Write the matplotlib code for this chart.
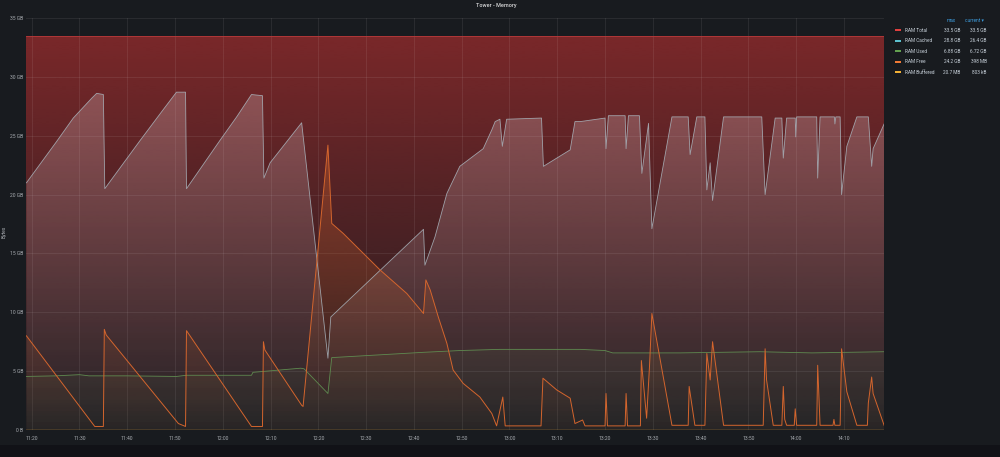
import numpy as np
import matplotlib
matplotlib.use('Agg')
import matplotlib.pyplot as plt
import matplotlib.colors as mcolors
from matplotlib.patches import Rectangle

plt.rcParams['font.family'] = ['Roboto', 'DejaVu Sans']

# time is minutes after 11:00, values in GB
cached_t = [18.9, 25.2, 28.7, 32.6, 33.6, 35.0, 35.3, 42.7, 47.5, 50.3, 52.2, 52.4,
            59.4, 62.9, 66.0, 68.3, 68.6, 69.9, 76.5, 82.0, 82.6, 102.0, 102.3, 104.4,
            106.9, 109.6, 114.5, 116.3, 117.0, 118.0, 118.5, 119.4, 126.7, 127.1, 132.7,
            133.7, 134.8, 140.0, 140.2, 140.7, 144.2, 144.4, 144.9, 147.2, 147.7, 149.1,
            149.8, 154.0, 157.4, 157.8, 159.2, 160.9, 161.3, 162.0, 162.5, 164.8, 172.8,
            173.5, 175.6, 177.0, 177.3, 178.0, 179.8, 179.9, 180.1, 184.3, 184.5, 185.0,
            188.0, 188.1, 188.3, 189.2, 189.5, 190.6, 192.7, 195.1, 195.8, 196.1, 198.4]
cached_v = [21.0, 24.5, 26.5, 28.2, 28.6, 28.5, 20.5, 24.6, 27.2, 28.7, 28.7, 20.5,
            24.6, 26.6, 28.5, 28.4, 21.4, 22.7, 26.1, 6.1, 9.6, 17.05, 14.0, 16.4,
            20.1, 22.4, 23.9, 25.5, 26.2, 26.4, 24.1, 26.4, 26.5, 22.4, 23.8,
            26.2, 26.2, 26.5, 23.9, 26.7, 26.7, 23.9, 26.7, 26.7, 21.8, 26.05,
            17.1, 26.6, 26.6, 23.4, 26.6, 26.6, 20.4, 22.7, 19.5, 26.6, 26.6,
            20.0, 26.5, 26.5, 23.1, 26.5, 26.5, 24.9, 26.6, 26.6, 21.4, 26.6,
            26.6, 26.0, 26.6, 26.6, 20.0, 24.1, 26.6, 26.6, 22.4, 23.9, 26.0]

free_t = [18.9, 33.2, 35.0, 35.2, 35.6, 50.7, 52.2, 52.4, 66.0, 68.3, 68.5, 68.8,
          76.5, 76.8, 82.0, 82.8, 85.2, 92.9, 98.5, 102.0, 102.5, 103.4, 105.1, 106.9,
          108.2, 110.3, 113.8, 116.3, 117.3, 118.6, 119.1, 126.6, 127.0, 129.9, 132.7,
          133.7, 135.3, 135.8, 140.0, 140.2, 140.5, 144.2, 144.4, 144.7, 147.4, 147.6,
          148.7, 149.3, 149.8, 154.0, 157.4, 157.6, 158.8, 160.9, 161.3, 162.0, 162.5,
          164.8, 173.1, 173.5, 173.8, 175.2, 177.0, 177.3, 177.6, 178.0, 179.6, 179.8,
          180.1, 184.3, 184.5, 185.0, 187.7, 187.9, 188.1, 189.2, 189.5, 190.6, 192.7,
          194.9, 195.1, 195.8, 196.1, 198.4]
free_v = [8.0, 0.3, 0.3, 8.55, 8.07, 0.55, 0.3, 8.44, 0.3, 0.3, 7.5, 6.8,
          2.1, 2.0, 24.2, 17.55, 16.7, 13.6, 11.6, 9.9, 12.75, 11.9, 9.6, 7.35,
          5.1, 3.96, 2.8, 1.4, 0.35, 2.8, 0.35, 0.35, 4.4, 3.4, 2.7,
          0.55, 0.85, 0.35, 0.35, 3.1, 0.35, 0.35, 3.1, 0.35, 0.35, 5.9,
          1.0, 5.4, 9.9, 0.4, 0.4, 3.7, 0.4, 0.4, 6.5, 4.25, 7.5,
          0.4, 0.4, 6.9, 4.25, 0.4, 0.4, 3.7, 0.9, 0.4, 0.4, 1.8,
          0.4, 0.4, 5.5, 0.4, 0.4, 0.9, 0.4, 0.4, 6.9, 3.25, 0.4,
          0.4, 2.3, 4.5, 3.1, 0.4]

used_t = [18.9, 25.0, 30.0, 32.0, 40.0, 50.3, 52.4, 60.0, 66.0, 66.3, 76.3, 77.0,
          82.0, 82.8, 102.0, 109.6, 118.0, 134.8, 140.0, 141.6, 155.7, 172.4, 183.3,
          198.4]
used_v = [4.55, 4.6, 4.7, 4.6, 4.6, 4.55, 4.65, 4.65, 4.65, 4.9, 5.25, 5.2,
          3.1, 6.15, 6.6, 6.75, 6.85, 6.85, 6.75, 6.55, 6.55, 6.65, 6.55,
          6.65]

total_t = [18.8, 198.4]
total_v = [33.5, 33.5]
buffered_t = [18.8, 198.4]
buffered_v = [0.02, 0.02]

tick_min = list(range(20, 191, 10))
tick_labels = ['11:20', '11:30', '11:40', '11:50', '12:00', '12:10', '12:20', '12:30',
               '12:40', '12:50', '13:00', '13:10', '13:20', '13:30', '13:40', '13:50',
               '14:00', '14:10']
ytick_vals = [0, 5, 10, 15, 20, 25, 30, 35]
ytick_labels = ['0 B', '5 GB', '10 GB', '15 GB', '20 GB', '25 GB', '30 GB', '35 GB']

leg_names = ['RAM Total', 'RAM Cached', 'RAM Used', 'RAM Free', 'RAM Buffered']
leg_max = ['33.5 GB', '28.8 GB', '6.88 GB', '24.2 GB', '20.7 MB']
leg_cur = ['33.5 GB', '26.4 GB', '6.72 GB', '398 MB', '803 kB']
leg_colors = ['#e0403f', '#5cc1cf', '#63a150', '#f07a35', '#f2b136']

X0, X1 = 18.81, 198.38
Y0, Y1 = 0, 35

fig = plt.figure(figsize=(10, 4.57), dpi=100, facecolor='#111217')
fig.add_artist(Rectangle((0, 12 / 457), 1, 1 - 12 / 457, transform=fig.transFigure,
                         facecolor='#181b1f', edgecolor='none', zorder=-10))
ax = fig.add_axes([0.026, 1 - 430 / 457, 0.858, 412 / 457])
ax.set_facecolor('none')


def grad_fill(x, y, color, a_top, a_bot, z):
    poly = ax.fill_between(x, y, 0, facecolor='none', edgecolor='none', zorder=z)
    img = np.ones((256, 1, 4))
    img[:, :, :3] = mcolors.to_rgb(color)
    img[:, 0, 3] = np.linspace(a_top, a_bot, 256)
    im = ax.imshow(img, aspect='auto', extent=[X0, X1, Y0, Y1], origin='upper',
                   zorder=z, interpolation='bilinear')
    im.set_clip_path(poly.get_paths()[0], transform=ax.transData)


grad_fill(total_t, total_v, '#c83232', 0.58, 0.03, 1)
grad_fill(cached_t, cached_v, '#ebcdd2', 0.32, 0.03, 2)
grad_fill(used_t, used_v, '#7fb070', 0.22, 0.04, 3)
grad_fill(free_t, free_v, '#e8702e', 0.45, 0.02, 4)

ax.plot(total_t, total_v, color='#b8393a', lw=0.6, zorder=5)
ax.plot(cached_t, cached_v, color='#aab4bc', lw=0.6, alpha=0.85, zorder=5)
ax.plot(used_t, used_v, color='#5f8a50', lw=0.6, zorder=5)
ax.plot(free_t, free_v, color='#d4652d', lw=0.7, zorder=6)
ax.plot(buffered_t, buffered_v, color='#c99034', lw=1.0, zorder=6)

ax.set_xlim(X0, X1)
ax.set_ylim(Y0, Y1)
ax.set_xticks(tick_min)
ax.set_xticklabels(tick_labels)
ax.set_yticks(ytick_vals)
ax.set_yticklabels(ytick_labels)
ax.tick_params(length=0, labelsize=3.6, colors='#a9adb2', pad=4)
ax.tick_params(axis='y', pad=2)
ax.grid(True, color='#ffffff', alpha=0.09, lw=0.6, zorder=0)
for s in ax.spines.values():
    s.set_visible(False)
ax.set_ylabel('Bytes', fontsize=3.6, color='#a9adb2')
ax.yaxis.set_label_coords(-0.022, 0.48)

fig.text(0.4967, 1 - 5 / 457, 'Tower - Memory', ha='center', va='center',
         fontsize=4, color='#d8d9da', fontweight='medium')

# legend table
fig.text(0.956, 1 - 20 / 457, 'max', ha='right', va='center', fontsize=3.4, color='#3d9ee0')
fig.text(0.965, 1 - 20 / 457, 'current \u25be', ha='left', va='center', fontsize=3.4,
         color='#3d9ee0', family=['Roboto', 'DejaVu Sans'])
row_y = [30, 40.7, 51.3, 61.7, 72]
for i in range(len(leg_names)):
    yy = 1 - row_y[i] / 457
    fig.add_artist(Rectangle((0.895, yy - 1 / 457), 0.006, 2 / 457, transform=fig.transFigure,
                             facecolor=leg_colors[i], edgecolor='none'))
    fig.text(0.905, yy, leg_names[i], ha='left', va='center', fontsize=3.4, color='#c7d0d9')
    fig.text(0.960, yy, leg_max[i], ha='right', va='center', fontsize=3.4, color='#c7d0d9')
    fig.text(0.987, yy, leg_cur[i], ha='right', va='center', fontsize=3.4, color='#c7d0d9')

fig.savefig('out.png', dpi=100, facecolor=fig.get_facecolor())
